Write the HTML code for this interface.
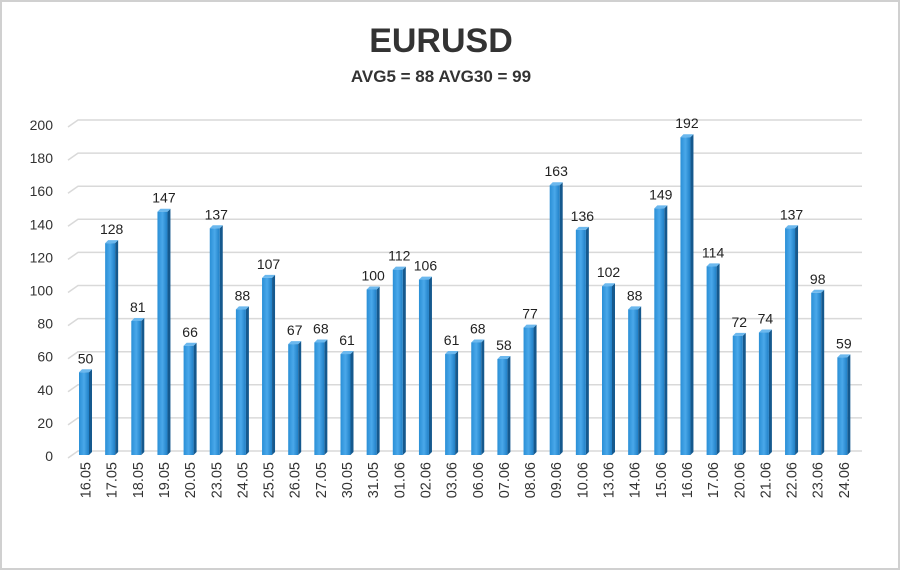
<!DOCTYPE html>
<html><head><meta charset="utf-8"><style>
html,body{margin:0;padding:0;background:#fff}
svg{display:block;font-family:"Liberation Sans",Arial,sans-serif}
</style></head><body>
<svg id="chart" width="900" height="570" viewBox="0 0 900 570">
<defs>
<linearGradient id="bg" x1="0" x2="1" y1="0" y2="0">
<stop offset="0" stop-color="#2a8fd6"/><stop offset="0.5" stop-color="#4aa8ea"/><stop offset="1" stop-color="#1f7fc6"/>
</linearGradient>
</defs>
<rect x="1" y="1" width="898" height="568" fill="#fff" stroke="#d0d0d0" stroke-width="2"/>
<text x="441" y="52" text-anchor="middle" font-size="34" font-weight="bold" fill="#333">EURUSD</text>
<text x="441" y="82" text-anchor="middle" font-size="17" font-weight="bold" fill="#333">AVG5 = 88 AVG30 = 99</text>
<g id="grid"></g><g id="bars"></g><g id="labels"></g>
</svg>
<script>
const categories=["16.05","17.05","18.05","19.05","20.05","23.05","24.05","25.05","26.05","27.05","30.05","31.05","01.06","02.06","03.06","06.06","07.06","08.06","09.06","10.06","13.06","14.06","15.06","16.06","17.06","20.06","21.06","22.06","23.06","24.06"];
const values=[50,128,81,147,66,137,88,107,67,68,61,100,112,106,61,68,58,77,163,136,102,88,149,192,114,72,74,137,98,59];
const yTicks=[0,20,40,60,80,100,120,140,160,180,200];
const NS="http://www.w3.org/2000/svg";
function yFront(v){return 455-v*1.655;}
function yBack(v){return 451-v*1.655;}
function xC(i){return 85.5+i*26.15;}
function mk(t,a,p){const e=document.createElementNS(NS,t);for(const k in a)e.setAttribute(k,a[k]);p.appendChild(e);return e;}
const grid=document.getElementById('grid'),bars=document.getElementById('bars'),labels=document.getElementById('labels');
yTicks.forEach(v=>{
  const yb=yBack(v);
  const l=mk('polyline',{points:`68,${yb+7} 78,${yb} 862,${yb}`,fill:'none',stroke:'#d9d9d9','stroke-width':1.5},grid);
  
  
  const t=mk('text',{x:53,y:yFront(v)+6,'text-anchor':'end','font-size':14,fill:'#333'},grid);
  t.textContent=v;
  
  
});
values.forEach((v,i)=>{
  const x=xC(i)-6.5,y=yFront(v),h=455-y;
  const g=mk('g',{},bars);
  
  
  mk('polygon',{points:`${x+10},${y} ${x+13},${y-3} ${x+13},${452} ${x+10},455`,fill:'#15598e'},g);
  mk('polygon',{points:`${x},${y} ${x+3},${y-3} ${x+13},${y-3} ${x+10},${y}`,fill:'#6bb8ee'},g);
  mk('rect',{x:x,y:y,width:10,height:h,fill:'url(#bg)'},g);
  const t=mk('text',{x:xC(i),y:y-9,'text-anchor':'middle','font-size':14,fill:'#222'},labels);
  t.textContent=v;
  
  
  const c=mk('text',{x:0,y:0,'text-anchor':'end','font-size':14.5,fill:'#333',transform:`translate(${xC(i)+5},462) rotate(-90)`},labels);
  c.textContent=categories[i];
  
  
});
</script>
</body></html>
